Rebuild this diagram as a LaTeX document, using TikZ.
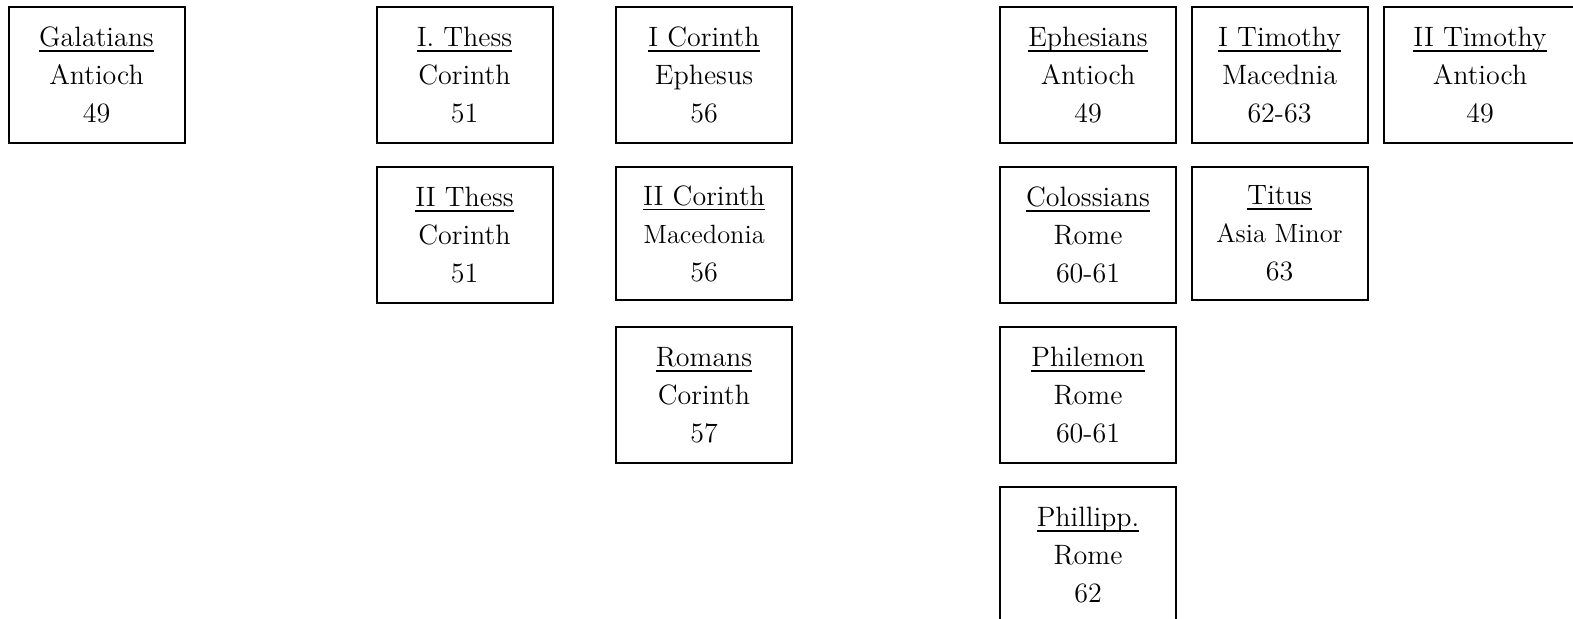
\documentclass[tikz,border=0pt]{standalone}
\newcommand\ulx[1]{\setbox0\hbox{#1}\rlap{\rule[-2.7pt]{\wd0}{0.8pt}}\box0}
\newcommand\smallmid[1]{{\fontsize{13.2}{19}\selectfont #1}}
\tikzset{
  letter/.style={draw=black, line width=1pt, minimum width=88pt, minimum height=68pt,
    inner sep=0pt, align=center, font=\fontsize{14}{19}\selectfont},
  lettershort/.style={letter, minimum height=66.5pt}
}
\begin{document}
\begin{tikzpicture}[x=0.5pt,y=-0.5pt]
\clip (0,0) rectangle (1573,619);
\fill[white] (0,0) rectangle (1573,619);
\node[letter] (gal) at (96.5,75) {\ulx{Galatians}\\ Antioch\\ 49};
\node[letter] (thess1) at (464.5,75) {\ulx{I. Thess}\\ Corinth\\ 51};
\node[letter] (thess2) at (464.5,235) {\ulx{II Thess}\\ Corinth\\ 51};
\node[letter] (cor1) at (704,75) {\ulx{I Corinth}\\ Ephesus\\ 56};
\node[lettershort] (cor2) at (704,233.5) {\ulx{II Corinth}\\ \smallmid{Macedonia}\\ 56};
\node[letter] (rom) at (704,395) {\ulx{Romans}\\ Corinth\\ 57};
\node[letter] (eph) at (1088,75) {\ulx{Ephesians}\\ Antioch\\ 49};
\node[letter] (col) at (1088,235) {\ulx{Colossians}\\ Rome\\ 60-61};
\node[letter] (phm) at (1088,395) {\ulx{Philemon}\\ Rome\\ 60-61};
\node[letter] (php) at (1088,555) {\ulx{Phillipp.}\\ Rome\\ 62};
\node[letter] (tim1) at (1279.5,75) {\ulx{I Timothy}\\ Macednia\\ 62-63};
\node[lettershort] (tit) at (1279.5,233.5) {\ulx{Titus}\\ \smallmid{Asia Minor}\\ 63};
\node[letter, minimum width=96pt] (tim2) at (1480,75) {\ulx{II Timothy}\\ Antioch\\ 49};
\end{tikzpicture}
\end{document}
